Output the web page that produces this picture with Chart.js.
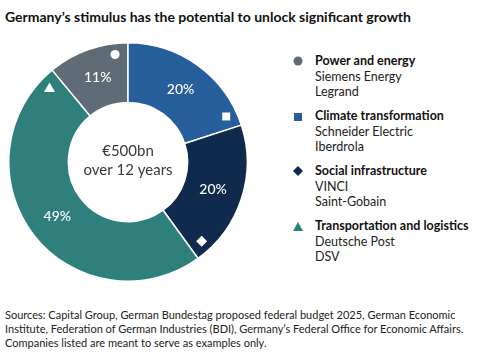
<!DOCTYPE html>
<html lang="en">
<head>
<meta charset="UTF-8">
<title>Germany's stimulus</title>
<script src="https://cdn.jsdelivr.net/npm/chart.js"></script>
<style>
    body {
        margin: 0;
        width: 478px;
        height: 352px;
        background: #ffffff;
        font-family: Lato, "Open Sans", sans-serif;
        color: #1a1a1a;
        position: relative;
        overflow: hidden;
    }
    .title {
        position: absolute;
        left: 5px;
        top: 8px;
        font-size: 14px;
        font-weight: bold;
        color: #111;
    }
    .chartBox {
        position: absolute;
        left: 8px;
        top: 42px;
        width: 240px;
        height: 240px;
    }
    .legend {
        position: absolute;
        left: 291px;
        top: 53px;
    }
    .item {
        position: relative;
        padding-left: 24px;
        margin-bottom: 8.5px;
        font-size: 12.5px;
        line-height: 15.5px;
        color: #222;
    }
    .item b { color: #111; }
    .mark {
        position: absolute;
        left: 2px;
        top: 3px;
    }
    .footer {
        position: absolute;
        left: 5px;
        top: 308px;
        font-size: 11px;
        line-height: 14px;
        color: #222;
    }
</style>
</head>
<body>
    <div class="title">Germany’s stimulus has the potential to unlock significant growth</div>
    <div class="chartBox"><canvas id="donut"></canvas></div>
    <div class="legend" id="legend"></div>
    <div class="footer">
        Sources: Capital Group, German Bundestag proposed federal budget 2025, German Economic<br>
        Institute, Federation of German Industries (BDI), Germany’s Federal Office for Economic Affairs.<br>
        Companies listed are meant to serve as examples only.
    </div>

<script>
    const categories = ['Power and energy', 'Climate transformation', 'Social infrastructure', 'Transportation and logistics'];
    const shares = [11, 20, 20, 49];
    const companies = [
        ['Siemens Energy', 'Legrand'],
        ['Schneider Electric', 'Iberdrola'],
        ['VINCI', 'Saint-Gobain'],
        ['Deutsche Post', 'DSV']
    ];
    const colors = ['#5f6c76', '#265f9c', '#0f2a4c', '#2f807c'];
    const shapes = ['circle', 'square', 'diamond', 'triangle'];
    const centerLines = ['€500bn', 'over 12 years'];

    // legend in html
    const legend = document.getElementById('legend');
    categories.forEach((name, i) => {
        const div = document.createElement('div');
        div.className = 'item';
        const c = colors[i];
        let mark = '';
        if (shapes[i] === 'circle') mark = `<svg width="12" height="12"><circle cx="5" cy="5" r="4.5" fill="${c}"/></svg>`;
        if (shapes[i] === 'square') mark = `<svg width="12" height="12"><rect x="1" y="2" width="8" height="8" fill="${c}"/></svg>`;
        if (shapes[i] === 'diamond') mark = `<svg width="12" height="12"><polygon points="5,0 10,5 5,10 0,5" fill="${c}"/></svg>`;
        if (shapes[i] === 'triangle') mark = `<svg width="12" height="12"><polygon points="5,1 10,10 0,10" fill="${c}"/></svg>`;
        div.innerHTML = `<span class="mark">${mark}</span><b>${name}</b><br>${companies[i].join('<br>')}`;
        legend.appendChild(div);
    });

    // percentages, white icons and centre text
    const labelsPlugin = {
        id: 'labelsPlugin',
        afterDatasetsDraw(chart) {
            const ctx = chart.ctx;
            const arcs = chart.getDatasetMeta(0).data;
            ctx.save();
            arcs.forEach((arc, i) => {
                const p = arc.getProps(['x', 'y', 'startAngle', 'endAngle', 'innerRadius', 'outerRadius'], true);
                const mid = (p.startAngle + p.endAngle) / 2;
                const r = (p.innerRadius + p.outerRadius) / 2;
                ctx.fillStyle = '#ffffff';
                ctx.font = '500 14px Lato';
                ctx.textAlign = 'center';
                ctx.textBaseline = 'middle';
                ctx.fillText(shares[i] + '%', p.x + Math.cos(mid) * r, p.y + Math.sin(mid) * r);

                const a = p.endAngle - 0.12;
                const ri = p.outerRadius - 11;
                const ix = p.x + Math.cos(a) * ri;
                const iy = p.y + Math.sin(a) * ri;
                ctx.beginPath();
                if (shapes[i] === 'circle') {
                    ctx.arc(ix, iy, 4.5, 0, Math.PI * 2);
                } else if (shapes[i] === 'square') {
                    ctx.rect(ix - 4, iy - 4, 8, 8);
                } else if (shapes[i] === 'diamond') {
                    ctx.moveTo(ix, iy - 5.5);
                    ctx.lineTo(ix + 5.5, iy);
                    ctx.lineTo(ix, iy + 5.5);
                    ctx.lineTo(ix - 5.5, iy);
                    ctx.closePath();
                } else {
                    ctx.moveTo(ix, iy - 5);
                    ctx.lineTo(ix + 5.5, iy + 4.5);
                    ctx.lineTo(ix - 5.5, iy + 4.5);
                    ctx.closePath();
                }
                ctx.fill();
            });
            const cx = arcs[0].x, cy = arcs[0].y;
            ctx.fillStyle = '#3a3a3a';
            ctx.font = '15px Lato';
            ctx.fillText(centerLines[0], cx, cy - 11);
            ctx.fillText(centerLines[1], cx, cy + 8);
            ctx.restore();
        }
    };

    new Chart(document.getElementById('donut'), {
        type: 'doughnut',
        data: {
            labels: categories,
            datasets: [{
                data: shares,
                backgroundColor: colors,
                borderColor: '#ffffff',
                borderWidth: 1.5
            }]
        },
        options: {
            responsive: true,
            maintainAspectRatio: false,
            animation: false,
            cutout: '50%',
            rotation: -shares[0] * 3.6,
            layout: { padding: 0 },
            plugins: {
                legend: { display: false },
                tooltip: { enabled: false }
            }
        },
        plugins: [labelsPlugin]
    });
</script>
</body>
</html>
